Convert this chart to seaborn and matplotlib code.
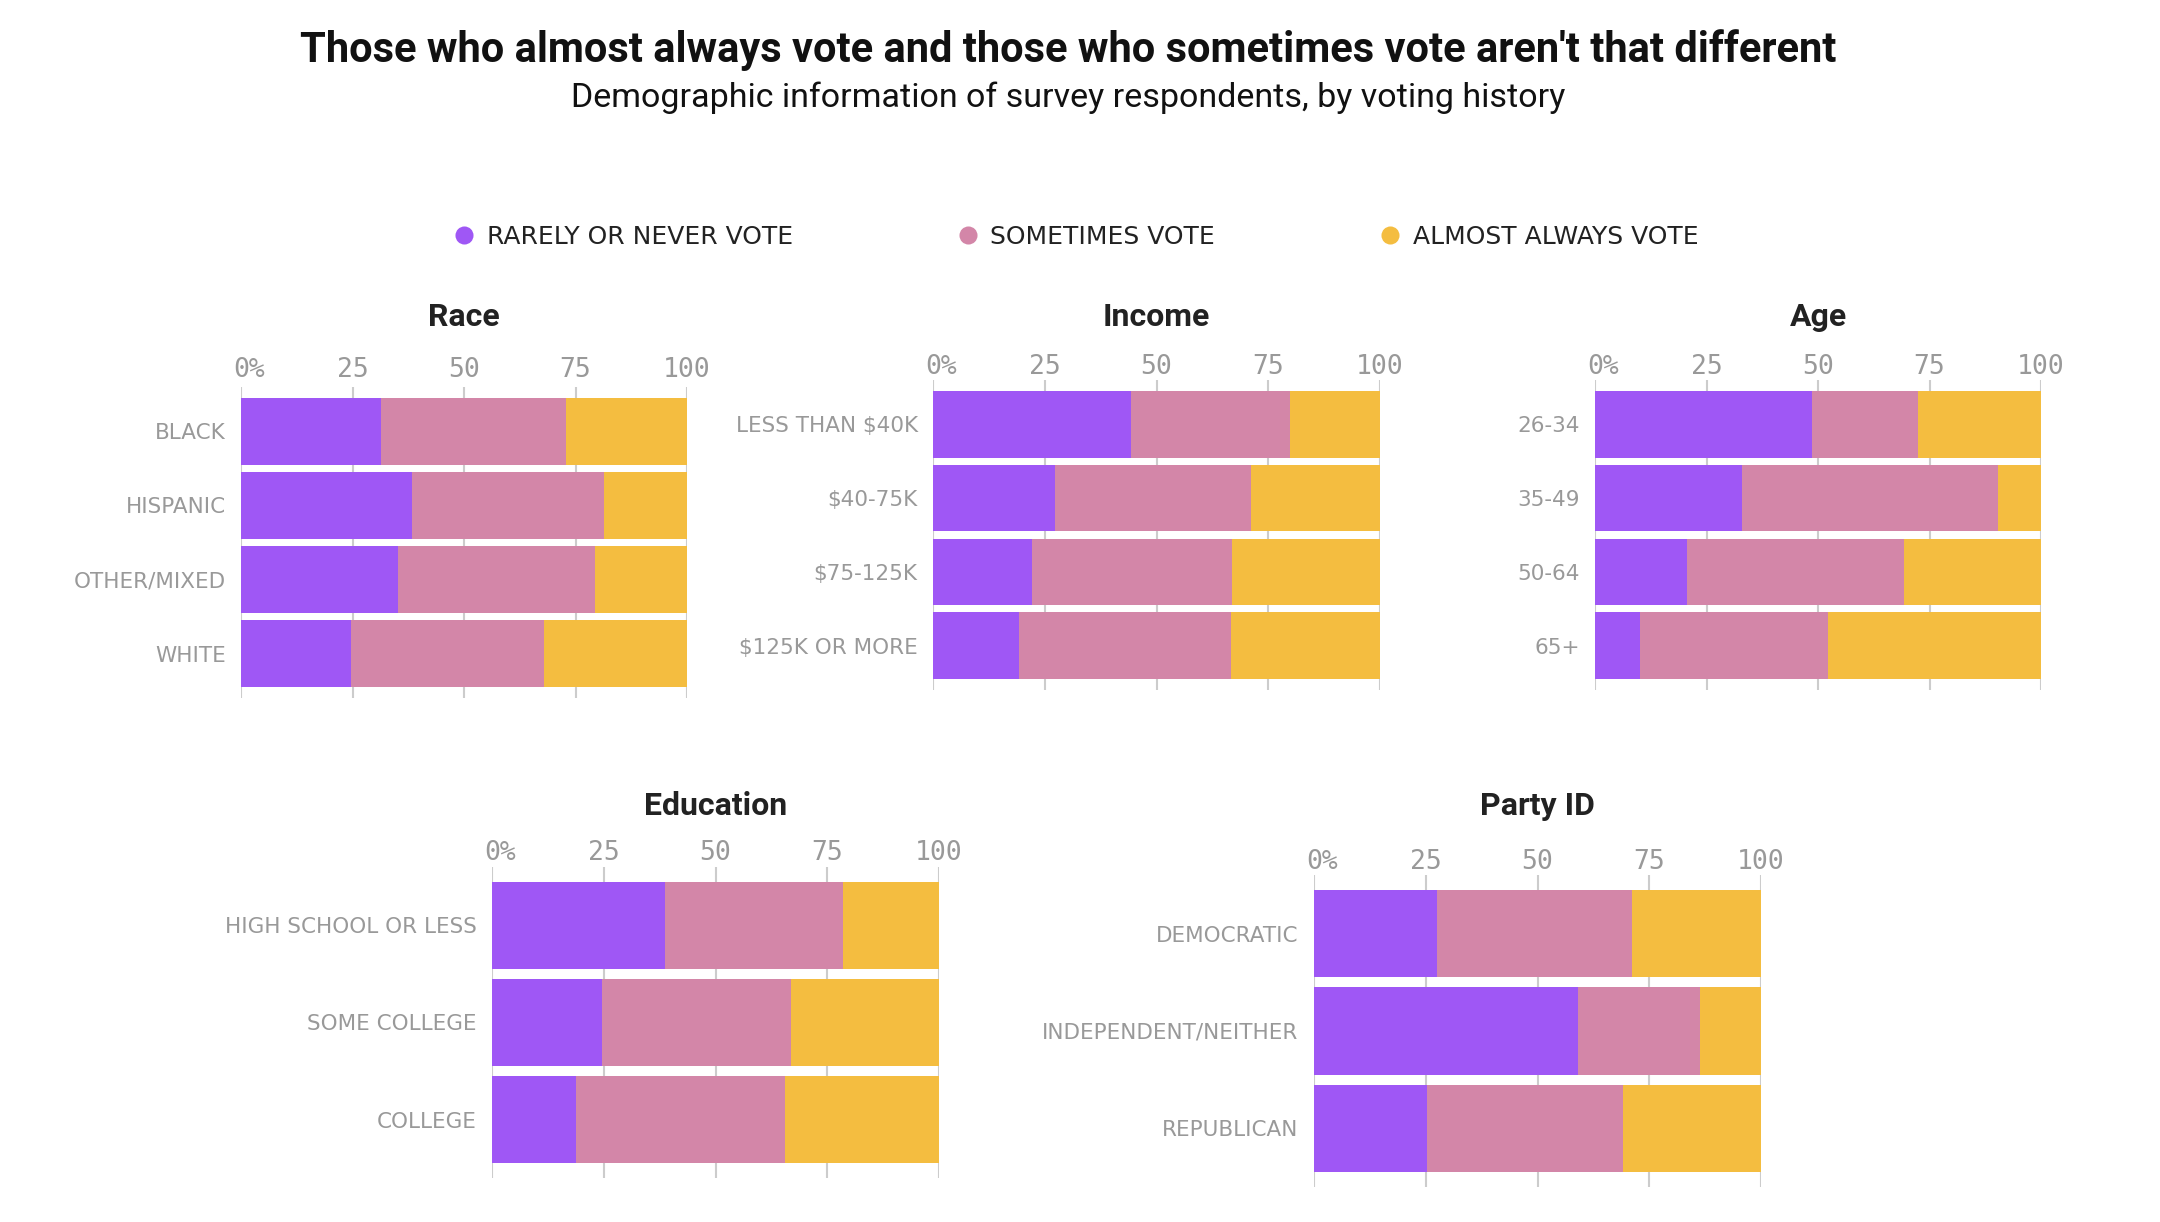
### PACKAGES

import matplotlib
matplotlib.use('Agg')
import matplotlib.pyplot as plt
from matplotlib.lines import Line2D
from matplotlib.transforms import ScaledTranslation
import seaborn as sns
import pandas as pd

### DATA

series_names = ['RARELY OR NEVER VOTE', 'SOMETIMES VOTE', 'ALMOST ALWAYS VOTE']

race_groups = ['BLACK', 'HISPANIC', 'OTHER/MIXED', 'WHITE']
race_rarely = [31.4, 38.4, 35.3, 24.7]
race_sometimes = [41.5, 43.0, 44.0, 43.2]
race_always = [27.1, 18.6, 20.7, 32.1]

income_groups = ['LESS THAN $40K', '$40-75K', '$75-125K', '$125K OR MORE']
income_rarely = [44.3, 27.3, 22.2, 19.2]
income_sometimes = [35.5, 43.9, 44.8, 47.4]
income_always = [20.2, 28.8, 33.0, 33.4]

age_groups = ['26-34', '35-49', '50-64', '65+']
age_rarely = [48.6, 33.0, 20.6, 10.2]
age_sometimes = [23.9, 57.4, 48.7, 42.1]
age_always = [27.5, 9.6, 30.7, 47.7]

edu_groups = ['HIGH SCHOOL OR LESS', 'SOME COLLEGE', 'COLLEGE']
edu_rarely = [38.8, 24.7, 18.8]
edu_sometimes = [39.8, 42.3, 46.7]
edu_always = [21.4, 33.0, 34.5]

party_groups = ['DEMOCRATIC', 'INDEPENDENT/NEITHER', 'REPUBLICAN']
party_rarely = [27.6, 59.1, 25.2]
party_sometimes = [43.5, 27.2, 44.0]
party_always = [28.9, 13.7, 30.8]

x_ticks = [0, 25, 50, 75, 100]
x_tick_labels = ['0%', '25', '50', '75', '100']

### STYLE

sns.set_style('white')
plt.rcParams['font.family'] = ['Roboto', 'DejaVu Sans']

PURPLE = '#9f57f5'
PINK = '#d386a8'
YELLOW = '#f4bd40'
colors = [PURPLE, PINK, YELLOW]

NARROW = ['Liberation Sans Narrow', 'DejaVu Sans']
MONO = ['DejaVu Sans Mono']
GREY = '#999999'

W, H = 2160, 1222


def px_rect(x0, x1, y_top, y_bot):
    # axes rectangle from pixel coordinates of the reference
    return [x0 / W, 1 - y_bot / H, (x1 - x0) / W, (y_bot - y_top) / H]


def draw_panel(fig, rect, title, title_y, xpad, groups, rarely, sometimes, always):
    ax = fig.add_axes(rect)
    df = pd.DataFrame({'group': groups, 'rarely': rarely,
                       'sometimes': sometimes, 'always': always})
    df['to_sometimes'] = df['rarely'] + df['sometimes']
    df['to_always'] = df['to_sometimes'] + df['always']

    # stacked bars, drawn from the back to the front
    for col, c in zip(['to_always', 'to_sometimes', 'rarely'], [YELLOW, PINK, PURPLE]):
        sns.barplot(data=df, x=col, y='group', color=c, orient='h', width=0.9,
                    saturation=1, linewidth=0, ax=ax, zorder=2)

    n = len(groups)
    ax.set_xlim(0, 100)
    ax.set_ylim(n - 1 + 0.6, -0.6)
    ax.set_xlabel('')
    ax.set_ylabel('')

    # axis on top
    ax.xaxis.tick_top()
    ax.set_xticks(x_ticks)
    ax.set_xticklabels(x_tick_labels, fontfamily=MONO, fontsize=19, color=GREY)
    ax.tick_params(axis='x', length=0, pad=xpad)
    ax.tick_params(axis='y', length=0, pad=11, labelsize=15.5, labelcolor=GREY)
    for lab in ax.get_yticklabels():
        lab.set_fontfamily(NARROW)
    # nudge the "0%" so the 0 sits on the line
    first = ax.get_xticklabels()[0]
    first.set_transform(first.get_transform() + ScaledTranslation(8 / 100, 0, fig.dpi_scale_trans))

    # grid
    ax.grid(axis='x', color='#cccccc', linewidth=1.5, zorder=0)
    ax.grid(axis='y', visible=False)
    ax.set_axisbelow(True)
    for s in ax.spines.values():
        s.set_visible(False)

    # panel title
    cx = rect[0] + rect[2] / 2
    fig.text(cx, 1 - title_y / H, title, ha='center', va='center', fontsize=23,
             fontweight='bold', color='#222222')
    return ax


### PLOT

fig = plt.figure(figsize=(W / 100, H / 100), dpi=100)

draw_panel(fig, px_rect(241, 687, 387, 698), 'Race', 317, 3,
           race_groups, race_rarely, race_sometimes, race_always)
draw_panel(fig, px_rect(933, 1380, 380, 690), 'Income', 317, 0,
           income_groups, income_rarely, income_sometimes, income_always)
draw_panel(fig, px_rect(1595, 2041, 380, 690), 'Age', 317, 0,
           age_groups, age_rarely, age_sometimes, age_always)
draw_panel(fig, px_rect(492, 939, 867, 1178), 'Education', 806, 0.5,
           edu_groups, edu_rarely, edu_sometimes, edu_always)
draw_panel(fig, px_rect(1314, 1761, 875, 1187), 'Party ID', 806, 0,
           party_groups, party_rarely, party_sometimes, party_always)

# title and subtitle
fig.text(0.4944, 1 - 50 / H, "Those who almost always vote and those who sometimes vote aren't that different",
         ha='center', va='center', fontsize=30, fontweight='bold', color='#111111')
fig.text(0.4944, 1 - 98 / H, 'Demographic information of survey respondents, by voting history',
         ha='center', va='center', fontsize=24.5, color='#111111')

# legend
handles = [Line2D([], [], marker='o', ls='', markersize=13, markerfacecolor=c,
                  markeredgewidth=0, label=name) for c, name in zip(colors, series_names)]
leg = fig.legend(handles=handles, loc='center', bbox_to_anchor=(0.4977, 1 - 237 / H),
                 ncol=3, frameon=False, handlelength=1, handletextpad=0.4,
                 columnspacing=6.5, prop={'family': NARROW, 'size': 18})
for t in leg.get_texts():
    t.set_color('#222222')

plt.savefig('out.png', dpi=100)
